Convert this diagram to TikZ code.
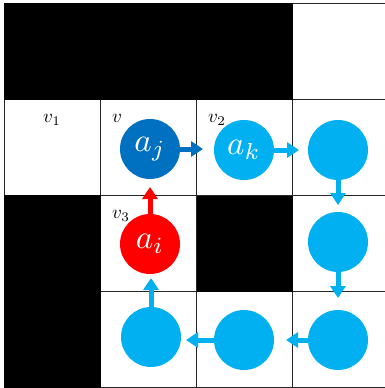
\documentclass[tikz,border=0pt]{standalone}
\usetikzlibrary{arrows.meta}
\definecolor{dblue}{HTML}{0070C0}
\definecolor{lblue}{HTML}{00B0F0}
\definecolor{rred}{HTML}{FF0000}
\newcommand{\agentmath}[1]{\scalebox{3.3}{$#1$}}
\newcommand{\cellmath}[1]{\scalebox{1.9}{$#1$}}
\begin{document}
\begin{tikzpicture}[x=1pt,y=-1pt,
  agent/.style={circle,minimum size=60pt,inner sep=0pt,text=white},
  arr/.style={line width=5pt,-{Triangle[length=12pt,width=15pt]}},
  lab/.style={inner sep=0pt},
  grid/.style={draw=black!85,line width=1.5pt}]
\useasboundingbox (0,0) rectangle (385,388);
% grid
\foreach \x in {4.5,100.5,196.5,292.5} \draw[grid] (\x,3.5) -- (\x,387.5);
\foreach \y in {3.5,99.5,195.5,291.5,387.5} \draw[grid] (4.5,\y) -- (388.5,\y);
% black cells
\fill[black] (3.75,2.75) rectangle (293.25,100.25);
\fill[black] (3.75,194.75) rectangle (101.25,388.25);
\fill[black] (196.5,195.5) rectangle (293.25,292.25);
% labels
\node[lab] (lv1) at (52,120) {\cellmath{v_1}};
\node[lab] (lv) at (117,118) {\cellmath{v}};
\node[lab] (lv2) at (217,120) {\cellmath{v_2}};
\node[lab] (lv3) at (121,216) {\cellmath{v_3}};
% agents
\node[agent,fill=dblue] (aj) at (150,149) {\agentmath{a_j}};
\node[agent,fill=lblue] (ak) at (244,150) {\agentmath{a_k}};
\node[agent,fill=lblue] (c13) at (338,150) {};
\node[agent,fill=lblue] (c23) at (338,242) {};
\node[agent,fill=lblue] (c33) at (338,340) {};
\node[agent,fill=lblue] (c32) at (244,340) {};
\node[agent,fill=lblue] (c31) at (151,337) {};
\node[agent,fill=rred] (ai) at (150,244) {\agentmath{a_i}};
% arrow tips
\coordinate (t1) at (203,149);
\coordinate (t2) at (299,150);
\coordinate (t3) at (338,205);
\coordinate (t4) at (338,298);
\coordinate (t5) at (286,340);
\coordinate (t6) at (186,340);
\coordinate (t7) at (151,278);
\coordinate (t8) at (150,187);
\draw[arr,dblue] (aj) -- (t1);
\draw[arr,lblue] (ak) -- (t2);
\draw[arr,lblue] (c13) -- (t3);
\draw[arr,lblue] (c23) -- (t4);
\draw[arr,lblue] (c33) -- (t5);
\draw[arr,lblue] (c32) -- (t6);
\draw[arr,lblue] (c31) -- (t7);
\draw[arr,rred] (ai) -- (t8);
\end{tikzpicture}
\end{document}
